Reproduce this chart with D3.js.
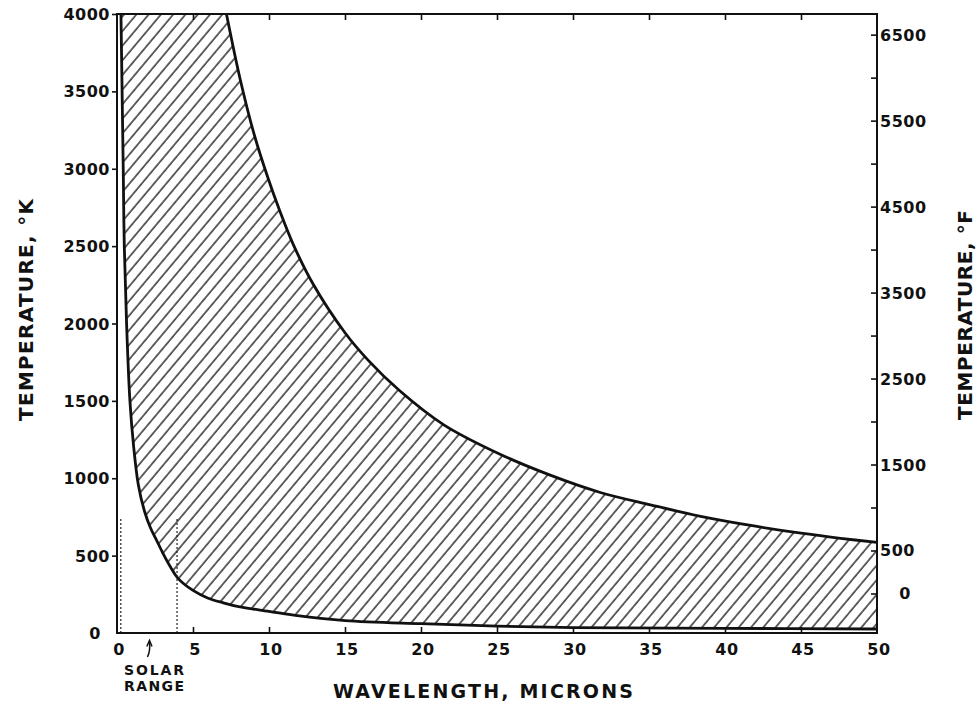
<!DOCTYPE html>
<html>
<head>
<meta charset="utf-8">
<script src="https://cdn.jsdelivr.net/npm/d3@7"></script>
<style>
  html, body { margin: 0; padding: 0; background: #fff; }
  svg { display: block; }
  text { font-family: "DejaVu Sans", "Open Sans", sans-serif; font-weight: bold; fill: #111; }
</style>
</head>
<body>
<svg id="chart" width="979" height="719"></svg>
<script>
// Upper boundary of the band (wavelength in microns, temperature in K)
const upperWavelength = [7.2, 8.1, 9.0, 9.9, 10.7, 11.6, 12.9, 15, 16.5, 18.6, 21.5, 25.2, 28.5, 31.8, 35.1, 38.4, 42, 45, 47.6, 50];
const upperTemp       = [4000, 3580, 3230, 2950, 2730, 2510, 2255, 1940, 1765, 1565, 1345, 1155, 1020, 908, 828, 754, 690, 645, 612, 585];

// Lower boundary of the band
const lowerWavelength = [0.26, 0.41, 0.48, 0.63, 0.85, 1.1, 1.4, 1.8, 2.2, 2.6, 3.0, 3.5, 4.0, 5.0, 6.0, 7.0, 8.0, 10, 12, 15, 20, 25, 30, 40, 50];
const lowerTemp       = [4000, 3000, 2500, 2000, 1500, 1200, 960, 790, 680, 600, 520, 430, 355, 275, 225, 195, 170, 140, 110, 80, 60, 45, 35, 30, 26];

// Solar range markers (wavelength, microns) and their height (K)
const solarBounds = [0.25, 3.95];
const solarMarkerTop = 740;

// Axis ticks
const xTicks = [0, 5, 10, 15, 20, 25, 30, 35, 40, 45, 50];
const kelvinTicks = [0, 500, 1000, 1500, 2000, 2500, 3000, 3500, 4000];
const fahrenheitTicks = [0, 500, 1000, 1500, 2000, 2500, 3000, 3500, 4000, 4500, 5000, 5500, 6000, 6500];
const fahrenheitLabels = [0, 500, 1500, 2500, 3500, 4500, 5500, 6500];

const svg = d3.select("#chart");

const plotL = 117, plotR = 877, plotT = 14, plotB = 633;
const x = d3.scaleLinear().domain([0, 50]).range([plotL, plotR]);
const y = d3.scaleLinear().domain([0, 4000]).range([plotB, plotT]);
const toKelvin = f => (f + 459.67) * 5 / 9;

const upper = upperWavelength.map((w, i) => [w, upperTemp[i]]);
const lower = lowerWavelength.map((w, i) => [w, lowerTemp[i]]);

const line = d3.line().x(d => x(d[0])).y(d => y(d[1])).curve(d3.curveCatmullRom.alpha(0.5));
const closeBelow = `L${x(50)},${y(0)}L${x(0)},${y(0)}L${x(0)},${y(4000)}Z`;

const defs = svg.append("defs");

// Diagonal hatching
const pat = defs.append("pattern")
  .attr("id", "hatch")
  .attr("patternUnits", "userSpaceOnUse")
  .attr("width", 9.4).attr("height", 20)
  .attr("patternTransform", "rotate(40)");
pat.append("line")
  .attr("x1", 1).attr("y1", -2).attr("x2", 1).attr("y2", 22)
  .attr("stroke", "#111").attr("stroke-width", 1.3);

// Band = region under the upper curve minus region under the lower curve
const mask = defs.append("mask").attr("id", "band")
  .attr("maskUnits", "userSpaceOnUse")
  .attr("x", 0).attr("y", 0).attr("width", 979).attr("height", 719);
mask.append("path").attr("d", line(upper) + closeBelow).attr("fill", "#fff");
mask.append("path").attr("d", line(lower) + closeBelow).attr("fill", "#000");

svg.append("rect")
  .attr("x", plotL).attr("y", plotT)
  .attr("width", plotR - plotL).attr("height", plotB - plotT)
  .attr("fill", "url(#hatch)")
  .attr("mask", "url(#band)");

// Boundary curves
[upper, lower].forEach(data => {
  svg.append("path")
    .attr("d", line(data))
    .attr("fill", "none")
    .attr("stroke", "#111")
    .attr("stroke-width", 2.8)
    .attr("stroke-linejoin", "round");
});

// Solar range dotted markers
svg.selectAll("line.solar").data(solarBounds).join("line")
  .attr("class", "solar")
  .attr("x1", d => x(d)).attr("x2", d => x(d))
  .attr("y1", y(0)).attr("y2", y(solarMarkerTop))
  .attr("stroke", "#222").attr("stroke-width", 1.2)
  .attr("stroke-dasharray", "2,2");

// Frame
svg.append("rect")
  .attr("x", plotL).attr("y", plotT)
  .attr("width", plotR - plotL).attr("height", plotB - plotT)
  .attr("fill", "none").attr("stroke", "#111").attr("stroke-width", 2);

const inner = xTicks.filter(d => d > 0 && d < 50);
const tickStyle = g => g.selectAll("line").attr("stroke", "#111").attr("stroke-width", 1.6);

// Bottom ticks (inward) and labels
svg.append("g")
  .attr("transform", `translate(0,${plotB})`)
  .call(d3.axisBottom(x).tickValues(inner).tickSize(-6).tickFormat(""))
  .call(g => g.select(".domain").remove())
  .call(tickStyle);
svg.selectAll("text.xl").data(xTicks).join("text")
  .attr("class", "xl")
  .attr("x", d => x(d) + 2)
  .attr("y", 655)
  .attr("text-anchor", "middle")
  .attr("font-size", 16)
  .attr("letter-spacing", 0.5)
  .text(d => d);

// Top ticks (inward)
svg.append("g")
  .attr("transform", `translate(0,${plotT})`)
  .call(d3.axisTop(x).tickValues(inner).tickSize(-6).tickFormat(""))
  .call(g => g.select(".domain").remove())
  .call(tickStyle);

// Left Kelvin axis (outward ticks)
svg.append("g")
  .attr("transform", `translate(${plotL},0)`)
  .call(d3.axisLeft(y).tickValues(kelvinTicks.filter(d => d > 0)).tickSize(5).tickFormat(""))
  .call(g => g.select(".domain").remove())
  .call(tickStyle);
svg.selectAll("text.yl").data(kelvinTicks).join("text")
  .attr("class", "yl")
  .attr("x", d => d === 0 ? 101 : 110)
  .attr("y", d => y(d) + 6)
  .attr("text-anchor", "end")
  .attr("font-size", 16)
  .attr("letter-spacing", 0.5)
  .text(d => d);

// Right Fahrenheit axis (inward ticks)
svg.append("g")
  .attr("transform", `translate(${plotR},0)`)
  .call(d3.axisRight(y).tickValues(fahrenheitTicks.map(toKelvin)).tickSize(-6).tickFormat(""))
  .call(g => g.select(".domain").remove())
  .call(tickStyle);
svg.selectAll("text.fl").data(fahrenheitLabels).join("text")
  .attr("class", "fl")
  .attr("x", d => d === 0 ? 905 : 880)
  .attr("y", d => y(toKelvin(d)) + 6)
  .attr("text-anchor", d => d === 0 ? "middle" : "start")
  .attr("font-size", 16)
  .attr("letter-spacing", 0.5)
  .text(d => d);

// Axis titles
svg.append("text")
  .attr("transform", "translate(33,310) rotate(-90)")
  .attr("text-anchor", "middle")
  .attr("font-size", 20)
  .attr("textLength", 222).attr("lengthAdjust", "spacing")
  .text("TEMPERATURE,   °K");

svg.append("text")
  .attr("transform", "translate(972,315) rotate(-90)")
  .attr("text-anchor", "middle")
  .attr("font-size", 20)
  .attr("textLength", 210).attr("lengthAdjust", "spacing")
  .text("TEMPERATURE,  °F");

svg.append("text")
  .attr("x", 483).attr("y", 698)
  .attr("text-anchor", "middle")
  .attr("font-size", 19)
  .attr("textLength", 300).attr("lengthAdjust", "spacing")
  .text("WAVELENGTH,  MICRONS");

// Solar range note
const note = svg.append("text").attr("font-size", 14);
note.append("tspan").attr("x", 124).attr("y", 675)
  .attr("textLength", 60).attr("lengthAdjust", "spacing").text("SOLAR");
note.append("tspan").attr("x", 124).attr("y", 691)
  .attr("textLength", 60).attr("lengthAdjust", "spacing").text("RANGE");
svg.append("path")
  .attr("d", "M147.5,657 Q150.5,651 149.5,642")
  .attr("fill", "none").attr("stroke", "#111").attr("stroke-width", 1.5);
svg.append("path")
  .attr("d", "M146.8,646.5 L149.5,640.5 L152,646.5")
  .attr("fill", "none").attr("stroke", "#111").attr("stroke-width", 1.5);
</script>
</body>
</html>
